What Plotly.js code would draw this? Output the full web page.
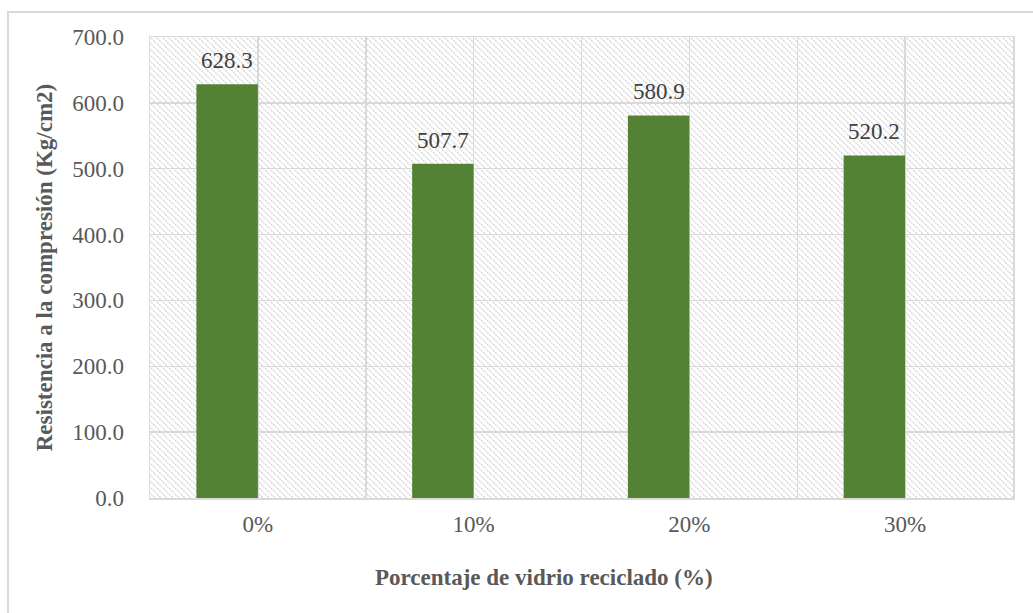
<!DOCTYPE html>
<html>
<head>
<meta charset="utf-8">
<script src="https://cdn.plot.ly/plotly-3.0.1.min.js"></script>
<style>
  html, body { margin: 0; padding: 0; background: #ffffff; }
  #wrap { position: relative; width: 1033px; height: 613px; overflow: hidden; }
  #chart { position: absolute; left: 0; top: 0; width: 1033px; height: 613px; }
  #frame { position: absolute; left: 7px; top: 11px; width: 1100px; height: 700px;
           border-left: 2px solid #d9d9d9; border-top: 2px solid #d9d9d9; pointer-events: none; }
</style>
</head>
<body>
<div id="wrap">
  <div id="chart"></div>
  <div id="frame"></div>
</div>
<script>
// Compressive strength by recycled-glass percentage
const categories = ['0%', '10%', '20%', '30%'];
const strength = [628.3, 507.7, 580.9, 520.2];

const serif = '"Liberation Serif", "Times New Roman", serif';
const barColor = '#548235';
const textColor = '#595959';
const labelColor = '#404040';
const gridColor = '#d9d9d9';
const barWidth = 0.285;

const xPos = categories.map((_, i) => i);

// hatched plot background as an inline SVG pattern
const hatchSvg =
  '<svg xmlns="http://www.w3.org/2000/svg" width="863" height="461">' +
  '<defs><pattern id="h" width="6" height="6" patternUnits="userSpaceOnUse">' +
  '<path d="M-1,-1 L7,7 M-1,5 L1,7 M5,-1 L7,1" stroke="#d2d2d2" stroke-width="1.3" stroke-dasharray="2 1"/>' +
  '</pattern></defs><rect width="100%" height="100%" fill="url(#h)"/></svg>';
const hatchUri = 'data:image/svg+xml;base64,' + btoa(hatchSvg);

const trace = {
  type: 'bar',
  x: xPos,
  y: strength,
  width: barWidth,
  offset: -barWidth,
  marker: { color: barColor },
  hoverinfo: 'x+y',
  showlegend: false
};

const labels = strength.map((v, i) => ({
  x: xPos[i] - barWidth / 2,
  y: v,
  xref: 'x',
  yref: 'y',
  text: v.toFixed(1),
  showarrow: false,
  yanchor: 'bottom',
  yshift: 9,
  font: { family: serif, size: 23, color: labelColor }
}));

const layout = {
  width: 1033,
  height: 613,
  margin: { l: 150, r: 20, t: 37, b: 115 },
  paper_bgcolor: 'rgba(0,0,0,0)',
  plot_bgcolor: 'rgba(0,0,0,0)',
  font: { family: serif, color: textColor },
  xaxis: {
    range: [-0.5, 3.5],
    tickmode: 'array',
    tickvals: xPos,
    ticktext: categories,
    ticks: '',
    ticklabelstandoff: 5,
    tickfont: { family: serif, size: 23, color: textColor },
    showgrid: true,
    gridcolor: gridColor,
    gridwidth: 1.5,
    minor: { tickmode: 'linear', tick0: 0.5, dtick: 1, showgrid: true, gridcolor: gridColor, gridwidth: 1.5, ticks: '' },
    showline: true,
    mirror: true,
    linecolor: gridColor,
    linewidth: 1.5,
    zeroline: false,
    fixedrange: true
  },
  yaxis: {
    range: [0, 700],
    tickmode: 'linear',
    tick0: 0,
    dtick: 100,
    tickformat: '.1f',
    ticks: '',
    ticklabelstandoff: 20,
    tickfont: { family: serif, size: 23, color: textColor },
    showgrid: true,
    gridcolor: gridColor,
    gridwidth: 1.5,
    showline: true,
    mirror: true,
    linecolor: gridColor,
    linewidth: 1.5,
    zeroline: false,
    fixedrange: true,
    title: {
      text: '<b>Resistencia a la compresión (Kg/cm2)</b>',
      font: { family: serif, size: 23, color: textColor },
      standoff: 13
    }
  },
  images: [{
    source: hatchUri,
    xref: 'paper', yref: 'paper',
    x: 0, y: 1, sizex: 1, sizey: 1,
    xanchor: 'left', yanchor: 'top',
    sizing: 'stretch',
    layer: 'below'
  }],
  annotations: labels.concat([{
    xref: 'paper', yref: 'paper',
    x: 0.456, y: -0.1735,
    xanchor: 'center', yanchor: 'middle',
    text: '<b>Porcentaje de vidrio reciclado (%)</b>',
    showarrow: false,
    font: { family: serif, size: 23, color: textColor }
  }])
};

Plotly.newPlot('chart', [trace], layout, { displayModeBar: false, staticPlot: true });
</script>
</body>
</html>
